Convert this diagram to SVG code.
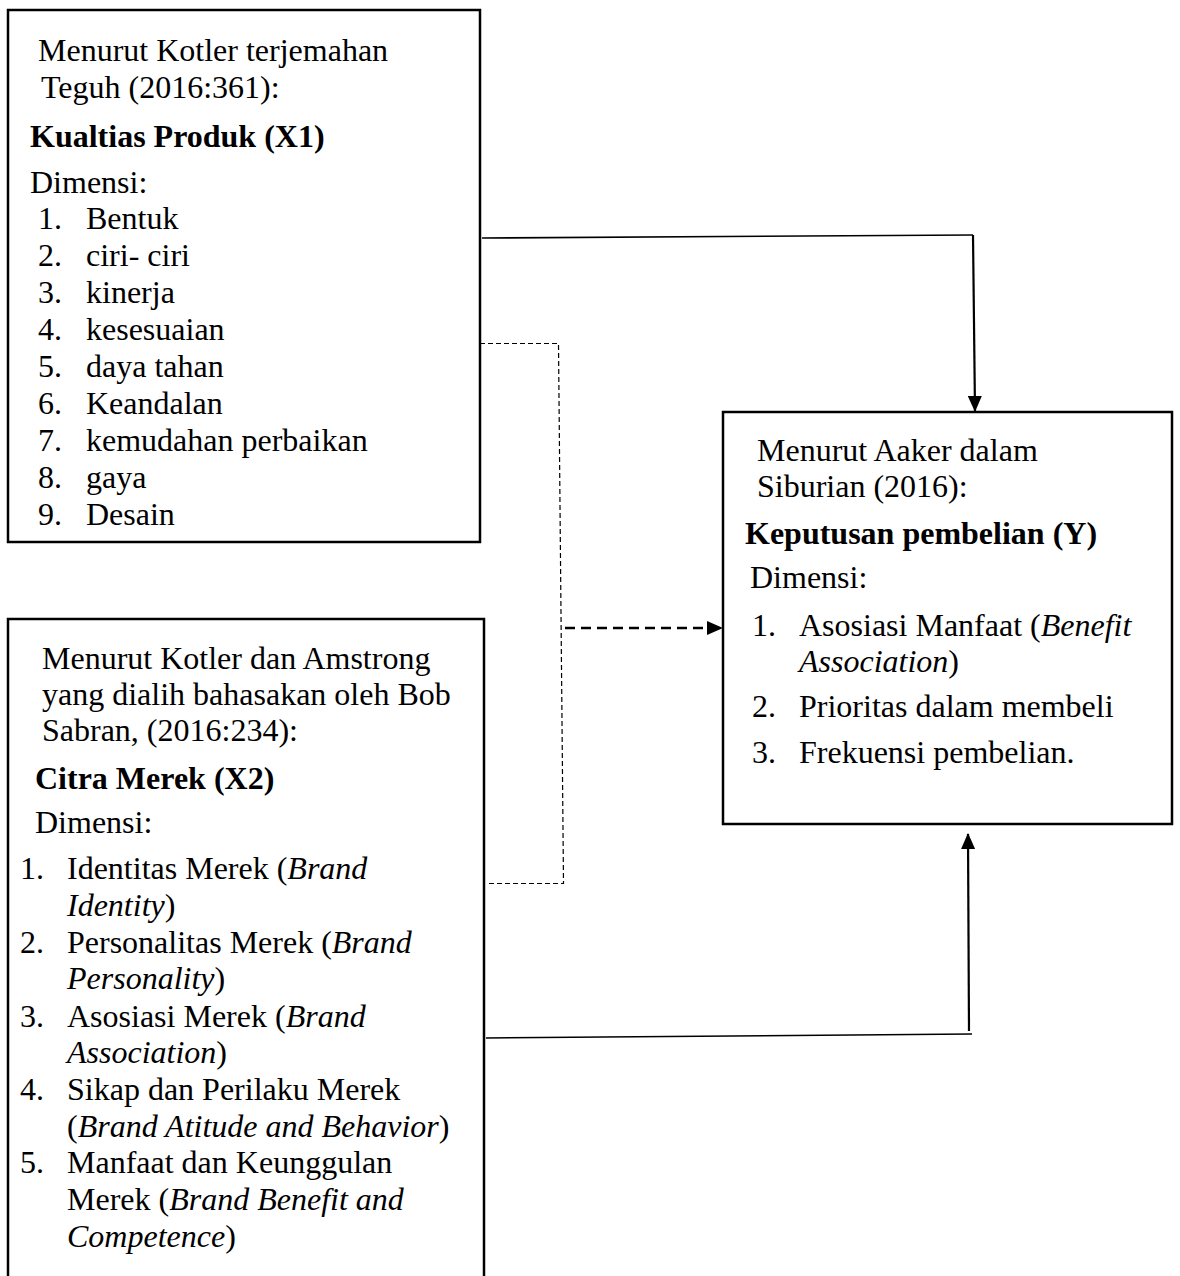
<svg xmlns="http://www.w3.org/2000/svg" width="1180" height="1276" viewBox="0 0 1180 1276">
<style>
  text { font-family: "Liberation Serif", "Times New Roman", serif; font-size: 32px; fill: #000; }
  .b { font-weight: bold; }
  .i { font-style: italic; }
  .box { fill: #fff; stroke: #000; stroke-width: 2.5; }
  .solid { fill: none; stroke: #000; stroke-width: 1.6; }
  .solid2 { fill: none; stroke: #000; stroke-width: 2.2; }
  .dotted { fill: none; stroke: #000; stroke-width: 1.2; stroke-dasharray: 5 3; }
  .dashed { fill: none; stroke: #000; stroke-width: 2.4; stroke-dasharray: 10 6; }
</style>
<defs>
  <marker id="ah" viewBox="0 0 16 14" refX="15" refY="7" markerWidth="16" markerHeight="14" markerUnits="userSpaceOnUse" orient="auto">
    <path d="M0,0 L16,7 L0,14 z" fill="#000"/>
  </marker>
</defs>
<rect width="1180" height="1276" fill="#fff"/>

<g id="connectors">
  <polyline class="solid" points="482,238 973,235"/>
  <line class="solid2" x1="973" y1="235" x2="975" y2="411" marker-end="url(#ah)"/>
  <polyline class="dotted" points="480,343.5 558.5,343.5 563.5,883.5 487,883.5"/>
  <line class="dashed" x1="565" y1="628" x2="722" y2="628" marker-end="url(#ah)"/>
  <polyline class="solid" points="486,1038 972,1034"/>
  <line class="solid2" x1="969" y1="1031" x2="968" y2="834" marker-end="url(#ah)"/>
</g>

<g id="x1">
  <rect class="box" x="8" y="10" width="472" height="532"/>
  <text x="38" y="61">Menurut Kotler terjemahan</text>
  <text x="41" y="98">Teguh (2016:361):</text>
  <text class="b" x="30" y="147">Kualtias Produk (X1)</text>
  <text x="30" y="193">Dimensi:</text>
  <text x="38" y="229">1.</text><text x="86" y="229">Bentuk</text>
  <text x="38" y="266">2.</text><text x="86" y="266">ciri- ciri</text>
  <text x="38" y="303">3.</text><text x="86" y="303">kinerja</text>
  <text x="38" y="340">4.</text><text x="86" y="340">kesesuaian</text>
  <text x="38" y="377">5.</text><text x="86" y="377">daya tahan</text>
  <text x="38" y="414">6.</text><text x="86" y="414">Keandalan</text>
  <text x="38" y="451">7.</text><text x="86" y="451">kemudahan perbaikan</text>
  <text x="38" y="488">8.</text><text x="86" y="488">gaya</text>
  <text x="38" y="525">9.</text><text x="86" y="525">Desain</text>
</g>

<g id="x2">
  <path class="box" d="M8,1280 L8,619 L484,619 L484,1280"/>
  <text x="42" y="669">Menurut Kotler dan Amstrong</text>
  <text x="42" y="705">yang dialih bahasakan oleh Bob</text>
  <text x="42" y="741">Sabran, (2016:234):</text>
  <text class="b" x="35" y="789">Citra Merek (X2)</text>
  <text x="35" y="833">Dimensi:</text>
  <text x="20" y="879">1.</text><text x="67" y="879">Identitas Merek (<tspan class="i">Brand</tspan></text>
  <text x="67" y="916"><tspan class="i">Identity</tspan>)</text>
  <text x="20" y="953">2.</text><text x="67" y="953">Personalitas Merek (<tspan class="i">Brand</tspan></text>
  <text x="67" y="989"><tspan class="i">Personality</tspan>)</text>
  <text x="20" y="1027">3.</text><text x="67" y="1027">Asosiasi Merek (<tspan class="i">Brand</tspan></text>
  <text x="67" y="1063"><tspan class="i">Association</tspan>)</text>
  <text x="20" y="1100">4.</text><text x="67" y="1100">Sikap dan Perilaku Merek</text>
  <text x="67" y="1137">(<tspan class="i">Brand Atitude and Behavior</tspan>)</text>
  <text x="20" y="1173">5.</text><text x="67" y="1173">Manfaat dan Keunggulan</text>
  <text x="67" y="1210">Merek (<tspan class="i">Brand Benefit and</tspan></text>
  <text x="67" y="1247"><tspan class="i">Competence</tspan>)</text>
</g>

<g id="y">
  <rect class="box" x="723" y="412" width="449" height="412"/>
  <text x="757" y="461">Menurut Aaker dalam</text>
  <text x="757" y="497">Siburian (2016):</text>
  <text class="b" x="745" y="544">Keputusan pembelian (Y)</text>
  <text x="750" y="588">Dimensi:</text>
  <text x="752" y="636">1.</text><text x="799" y="636">Asosiasi Manfaat (<tspan class="i">Benefit</tspan></text>
  <text x="799" y="672"><tspan class="i">Association</tspan>)</text>
  <text x="752" y="717">2.</text><text x="799" y="717">Prioritas dalam membeli</text>
  <text x="752" y="763">3.</text><text x="799" y="763">Frekuensi pembelian.</text>
</g>
</svg>
